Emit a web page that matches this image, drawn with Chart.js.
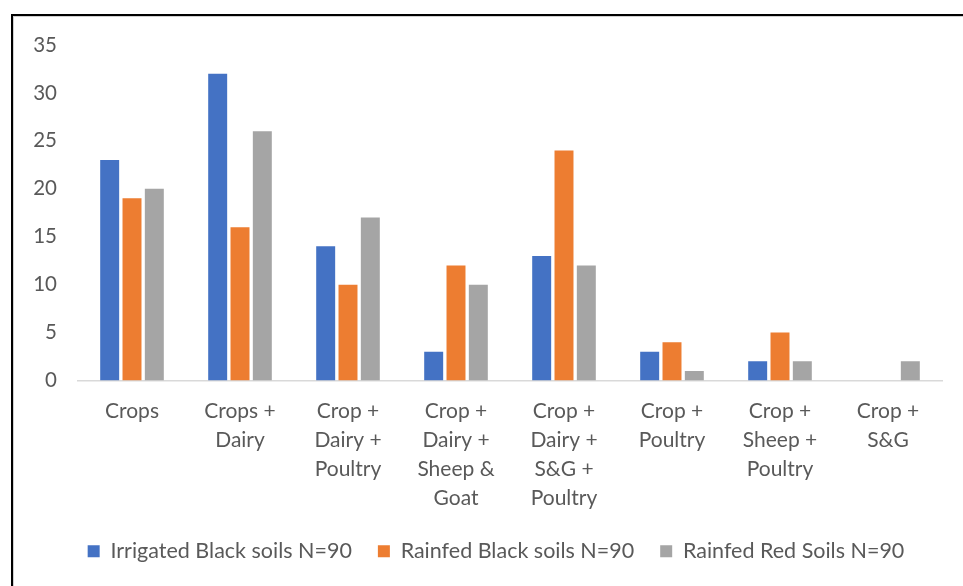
<!DOCTYPE html>
<html>
<head>
<meta charset="utf-8">
<script src="https://cdn.jsdelivr.net/npm/chart.js@4"></script>
<style>
  html, body { margin: 0; padding: 0; background: #fff; }
  #wrap { position: relative; width: 963px; height: 586px; overflow: hidden; }
  #frame {
    position: absolute; left: 11px; top: 14px; width: 1000px; height: 700px;
    border-left: 2px solid #000; border-top: 2px solid #000;
    box-shadow: inset 1px 1px 0 #d0d0d0;
  }
  canvas { position: absolute; left: 0; top: 0; }
</style>
</head>
<body>
<div id="wrap">
  <div id="frame"></div>
  <canvas id="c" width="963" height="586"></canvas>
</div>
<script>
// Farming system categories (x axis, multi-line labels)
const categories = [
  ["Crops"],
  ["Crops +", "Dairy"],
  ["Crop +", "Dairy +", "Poultry"],
  ["Crop +", "Dairy +", "Sheep &", "Goat"],
  ["Crop +", "Dairy +", "S&G +", "Poultry"],
  ["Crop +", "Poultry"],
  ["Crop +", "Sheep +", "Poultry"],
  ["Crop +", "S&G"]
];

const seriesNames = [
  "Irrigated Black soils N=90",
  "Rainfed Black soils N=90",
  "Rainfed Red Soils N=90"
];

const irrigatedBlack = [23, 32, 14, 3, 13, 3, 2, 0];
const rainfedBlack   = [19, 16, 10, 12, 24, 4, 5, 0];
const rainfedRed     = [20, 26, 17, 10, 12, 1, 2, 2];

const yTicks = [0, 5, 10, 15, 20, 25, 30, 35];

const colors = ["#4472C4", "#ED7D31", "#A5A5A5"];
const textColor = "#595959";
const fontFamily = "Lato, 'Open Sans', sans-serif";

const datasets = [irrigatedBlack, rainfedBlack, rainfedRed].map((vals, i) => ({
  label: seriesNames[i],
  data: vals,
  backgroundColor: colors[i],
  borderWidth: 0,
  barPercentage: 0.85,
  categoryPercentage: 0.62
}));

// Nudge the legend row a little to the right of the canvas centre
const legendShift = {
  id: "legendShift",
  afterLayout(chart) {
    if (chart.legend) {
      chart.legend.left += 15;
      chart.legend.right += 15;
    }
  }
};

new Chart(document.getElementById("c"), {
  type: "bar",
  data: { labels: categories, datasets },
  plugins: [legendShift],
  options: {
    responsive: false,
    animation: false,
    devicePixelRatio: 1,
    layout: { padding: { left: 20, right: 21, top: 45, bottom: 14 } },
    plugins: {
      tooltip: { enabled: false },
      legend: {
        position: "bottom",
        labels: {
          boxWidth: 12,
          boxHeight: 12,
          padding: 26,
          color: textColor,
          font: { family: fontFamily, size: 21.5 }
        }
      }
    },
    scales: {
      y: {
        min: 0,
        max: 35,
        afterBuildTicks: (axis) => { axis.ticks = yTicks.map(v => ({ value: v })); },
        grid: { display: false },
        border: { display: false },
        ticks: {
          color: textColor,
          padding: 13,
          font: { family: fontFamily, size: 20.5 }
        },
        afterFit: (axis) => { axis.width = 58; }
      },
      x: {
        grid: { display: false, drawTicks: false },
        border: { display: true, color: "#D9D9D9", width: 1.5 },
        ticks: {
          color: textColor,
          padding: 16,
          maxRotation: 0,
          autoSkip: false,
          font: { family: fontFamily, size: 21, lineHeight: 1.38 }
        },
        afterFit: (axis) => { axis.height = 134; }
      }
    }
  }
});
</script>
</body>
</html>
